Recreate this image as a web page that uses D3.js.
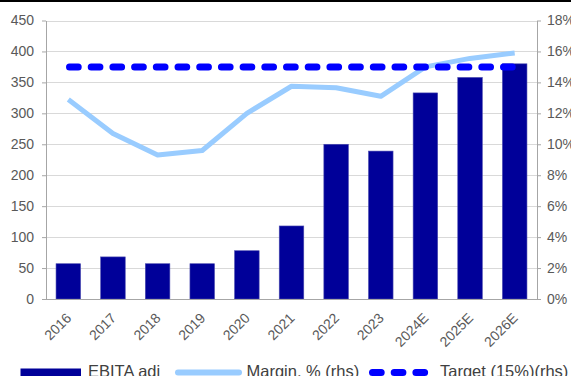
<!DOCTYPE html>
<html>
<head>
<meta charset="utf-8">
<script src="https://cdn.jsdelivr.net/npm/d3@7"></script>
<style>
  html, body { margin: 0; padding: 0; background: #fff; }
  svg { display: block; font-family: "Liberation Sans", Arial, sans-serif; }
</style>
</head>
<body>
<svg id="chart" width="571" height="376"></svg>
<script>
// Annual EBITA (bars, left axis) with margin and target margin (right axis)
const years = ["2016", "2017", "2018", "2019", "2020", "2021", "2022", "2023", "2024E", "2025E", "2026E"];
const ebitaAdj = [57, 68, 57, 57, 78, 118, 250, 239, 333, 358, 380];
const marginPct = [0.129, 0.107, 0.093, 0.096, 0.120, 0.1375, 0.1365, 0.131, 0.150, 0.1555, 0.159];
const targetPct = years.map(() => 0.15);
const leftTicks = [0, 50, 100, 150, 200, 250, 300, 350, 400, 450];
const rightTicks = [0, 0.02, 0.04, 0.06, 0.08, 0.10, 0.12, 0.14, 0.16, 0.18];
const legendLabels = ["EBITA adj", "Margin, % (rhs)", "Target (15%)(rhs)"];

const svg = d3.select("#chart");
const plot = { left: 46, right: 537, top: 20.5, bottom: 299 };

const x = d3.scaleBand().domain(years)
  .range([plot.left, plot.right])
  .paddingInner(0.45).paddingOuter(0.225);
const yL = d3.scaleLinear().domain([0, 450]).range([plot.bottom, plot.top]);
const yR = d3.scaleLinear().domain([0, 0.18]).range([plot.bottom, plot.top]);

const axisGrey = "#a6a6a6";
const textGrey = "#595959";

// top rule
svg.append("line").attr("x1", 0).attr("x2", 571).attr("y1", 1).attr("y2", 1)
  .attr("stroke", "#000").attr("stroke-width", 2);

// horizontal gridlines
svg.append("g").selectAll("line").data(leftTicks.filter(d => d > 0)).join("line")
  .attr("x1", plot.left).attr("x2", plot.right)
  .attr("y1", d => Math.round(yL(d)) + 0.5).attr("y2", d => Math.round(yL(d)) + 0.5)
  .attr("stroke", "#d9d9d9").attr("stroke-width", 1);

// left axis
const gL = svg.append("g").attr("transform", `translate(${plot.left},0)`)
  .call(d3.axisLeft(yL).tickValues(leftTicks).tickSize(4).tickPadding(8).tickSizeOuter(0));
gL.select(".domain").attr("stroke", axisGrey);
gL.selectAll(".tick line").attr("stroke", axisGrey);
gL.selectAll(".tick text").attr("fill", textGrey).style("font-size", "14px");

// right axis
const gR = svg.append("g").attr("transform", `translate(${plot.right},0)`)
  .call(d3.axisRight(yR).tickValues(rightTicks).tickFormat(d3.format(".0%")).tickSize(4).tickPadding(6).tickSizeOuter(0));
gR.select(".domain").attr("stroke", axisGrey);
gR.selectAll(".tick line").attr("stroke", axisGrey);
gR.selectAll(".tick text").attr("fill", textGrey).style("font-size", "14px");

// bars
svg.append("g").selectAll("rect").data(years).join("rect")
  .attr("x", d => x(d))
  .attr("width", x.bandwidth())
  .attr("y", (d, i) => yL(ebitaAdj[i]))
  .attr("height", (d, i) => plot.bottom - yL(ebitaAdj[i]))
  .attr("fill", "#000099")
  .attr("stroke", "#4b4bb0").attr("stroke-width", 0.6);

// bottom axis (no tick marks, rotated labels)
const gB = svg.append("g").attr("transform", `translate(0,${plot.bottom})`)
  .call(d3.axisBottom(x).tickSize(0).tickSizeOuter(0).tickPadding(0));
gB.select(".domain").attr("stroke", axisGrey).attr("d", `M${plot.left},0.5H${plot.right}`);
gB.selectAll(".tick text")
  .attr("fill", textGrey).style("font-size", "14px")
  .attr("text-anchor", "end").attr("y", 0).attr("dy", 0)
  .attr("transform", "translate(4,20) rotate(-45)");

const cx = d => x(d) + x.bandwidth() / 2;

// margin line
svg.append("path").datum(years)
  .attr("fill", "none").attr("stroke", "#99ccff").attr("stroke-width", 5)
  .attr("stroke-linejoin", "round")
  .attr("d", d3.line().x(d => cx(d)).y((d, i) => yR(marginPct[i])));

// target line
svg.append("path").datum(years)
  .attr("fill", "none").attr("stroke", "#0000ff").attr("stroke-width", 7)
  .attr("stroke-linecap", "round").attr("stroke-dasharray", "8.7,13")
  .attr("stroke-dashoffset", -1.2)
  .attr("d", d3.line().x(d => cx(d)).y((d, i) => yR(targetPct[i])));

// legend
const lg = svg.append("g").style("font-size", "16.5px").attr("fill", "#404040");
lg.append("rect").attr("x", 20.5).attr("y", 368.5).attr("width", 60.5).attr("height", 10).attr("fill", "#000099");
lg.append("text").attr("x", 88).attr("y", 377).text(legendLabels[0]);
lg.append("line").attr("x1", 178).attr("x2", 239).attr("y1", 372.5).attr("y2", 372.5)
  .attr("stroke", "#99ccff").attr("stroke-width", 6).attr("stroke-linecap", "round");
lg.append("text").attr("x", 246.5).attr("y", 377).text(legendLabels[1]);
lg.append("line").attr("x1", 372.5).attr("x2", 426.5).attr("y1", 372.5).attr("y2", 372.5)
  .attr("stroke", "#0000ff").attr("stroke-width", 7).attr("stroke-linecap", "round")
  .attr("stroke-dasharray", "8.7,13");
lg.append("text").attr("x", 440).attr("y", 377).text(legendLabels[2]);
</script>
</body>
</html>
